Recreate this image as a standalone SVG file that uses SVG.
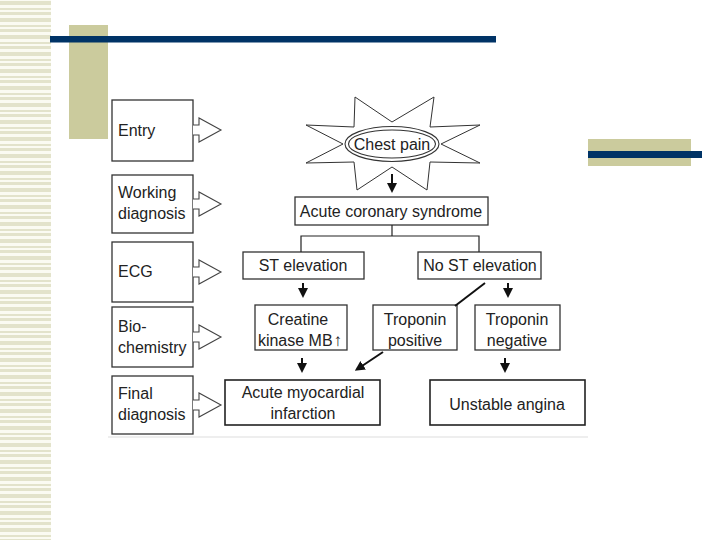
<svg xmlns="http://www.w3.org/2000/svg" width="720" height="540" viewBox="0 0 720 540">
<defs>
<style>
.box{fill:#fff;stroke:#333;stroke-width:1.3}
.sbox{fill:#fff;stroke:#222;stroke-width:1.6}
.t{font-family:"Liberation Sans",Arial,sans-serif;font-size:16px;fill:#222;text-anchor:middle}
.tl{font-family:"Liberation Sans",Arial,sans-serif;font-size:16px;fill:#222}
.ln{stroke:#222;stroke-width:1.2;fill:none}
.ar{stroke:#111;stroke-width:2;fill:none;marker-end:url(#ah)}
.hol{fill:#fff;stroke:#444;stroke-width:1.1}
</style>
<marker id="ah" viewBox="0 0 10 10" refX="5" refY="5" markerWidth="5" markerHeight="5" orient="auto" markerUnits="strokeWidth">
<path d="M0,0 L10,5 L0,10 z" fill="#111"/>
</marker>
<pattern id="stripes" x="0" y="0" width="51" height="17" patternUnits="userSpaceOnUse">
<rect x="0" y="0" width="51" height="17" fill="#fbfbf2"/>
<rect x="0" y="1" width="51" height="4" fill="#e3e3cb"/>
<rect x="0" y="8" width="51" height="2" fill="#e3e3cb"/>
<rect x="0" y="12" width="51" height="3" fill="#e3e3cb"/>
</pattern>
</defs>
<rect width="720" height="540" fill="#fff"/>
<g id="decor">
<rect x="0" y="0" width="51" height="540" fill="url(#stripes)"/>
<rect x="69" y="25" width="39" height="114" fill="#cbcb9d"/>
<rect x="50" y="36" width="446" height="6.5" fill="#003366"/>
<rect x="588" y="139" width="103" height="27" fill="#cbcb9d"/>
<rect x="588" y="151" width="114" height="7" fill="#003366"/>
<line x1="108" y1="437" x2="588" y2="437" stroke="#ddd" stroke-width="1.2"/>
</g>

<g id="label-entry">
<rect class="box" x="112" y="100" width="81" height="61"/>
<text class="tl" x="118" y="136">Entry</text>
<path class="hol" d="M193,125 H199 V118 L221,130 L199,142 V135 H193"/>
</g>
<g id="label-working">
<rect class="box" x="112" y="175" width="81" height="58"/>
<text class="tl" x="118" y="198">Working</text>
<text class="tl" x="118" y="219">diagnosis</text>
<path class="hol" d="M193,199 H199 V192 L221,204 L199,216 V209 H193"/>
</g>
<g id="label-ecg">
<rect class="box" x="112" y="242" width="81" height="60"/>
<text class="tl" x="118" y="277">ECG</text>
<path class="hol" d="M193,267 H199 V260 L221,272 L199,284 V277 H193"/>
</g>
<g id="label-bio">
<rect class="box" x="112" y="307" width="81" height="60"/>
<text class="tl" x="118" y="332">Bio-</text>
<text class="tl" x="118" y="353">chemistry</text>
<path class="hol" d="M193,332 H199 V325 L221,337 L199,349 V342 H193"/>
</g>
<g id="label-final">
<rect class="box" x="112" y="376" width="81" height="58"/>
<text class="tl" x="118" y="399">Final</text>
<text class="tl" x="118" y="420">diagnosis</text>
<path class="hol" d="M193,400 H199 V393 L221,405 L199,417 V410 H193"/>
</g>

<g id="chest-pain">
<polygon fill="#fff" stroke="#333" stroke-width="1" points="392,122 434,97 430,127 480,125 441,144 480,163 430,162 427,190 392,167 357,190 354,162 306,163 343,144 306,125 354,127 355,97"/>
<ellipse cx="392" cy="144" rx="47" ry="17.5" fill="#fff" stroke="#333" stroke-width="1.1"/>
<ellipse cx="392" cy="144" rx="43.5" ry="14" fill="#fff" stroke="#333" stroke-width="1.1"/>
<text class="t" x="392" y="150">Chest pain</text>
</g>
<g id="acs">
<rect class="box" x="295" y="197" width="193" height="28"/>
<text class="t" x="391" y="217">Acute coronary syndrome</text>
</g>
<g id="st-elev">
<rect class="box" x="243" y="252" width="121" height="27"/>
<text class="t" x="303" y="271">ST elevation</text>
</g>
<g id="no-st-elev">
<rect class="box" x="418" y="252" width="123" height="27"/>
<text class="t" x="480" y="271">No ST elevation</text>
</g>
<g id="ck-mb">
<rect class="box" x="255" y="305" width="92" height="45"/>
<text class="t" x="298" y="325">Creatine</text>
<text class="t" x="300" y="346">kinase MB<tspan font-size="17" dx="1">↑</tspan></text>
</g>
<g id="trop-pos">
<rect class="box" x="373" y="305" width="84" height="45"/>
<text class="t" x="415" y="325">Troponin</text>
<text class="t" x="415" y="346">positive</text>
</g>
<g id="trop-neg">
<rect class="box" x="475" y="305" width="85" height="45"/>
<text class="t" x="517" y="325">Troponin</text>
<text class="t" x="517" y="346">negative</text>
</g>
<g id="ami">
<rect class="sbox" x="225" y="380" width="155" height="45"/>
<text class="t" x="303" y="398">Acute myocardial</text>
<text class="t" x="303" y="419">infarction</text>
</g>
<g id="ua">
<rect class="sbox" x="430" y="380" width="155" height="45"/>
<text class="t" x="507" y="410">Unstable angina</text>
</g>

<g id="connectors">
<line class="ar" x1="392" y1="174" x2="392" y2="188"/>
<polyline class="ln" points="392,225 392,236"/>
<polyline class="ln" points="301,252 301,236 479,236 479,252"/>
<line class="ar" x1="303" y1="283" x2="303" y2="293"/>
<line class="ar" x1="508" y1="283" x2="508" y2="293"/>
<line x1="485" y1="283" x2="455" y2="306" stroke="#111" stroke-width="2"/>
<line class="ar" x1="302" y1="358" x2="302" y2="368"/>
<line class="ar" x1="383" y1="352" x2="359" y2="368"/>
<line class="ar" x1="505" y1="358" x2="505" y2="368"/>
</g>
</svg>
